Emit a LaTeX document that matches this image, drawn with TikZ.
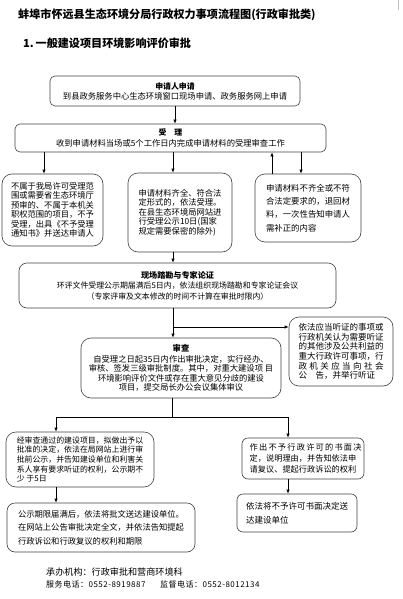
\documentclass[tikz,border=0pt]{standalone}
\usepackage{fontspec}
\setmainfont{Noto Sans CJK SC}
\usetikzlibrary{arrows.meta}

\begin{document}
\begin{tikzpicture}[x=1pt,y=-1pt,
  box/.style={draw=black!75,line width=0.6pt,rounded corners=8pt,inner sep=0pt,align=left,font=\fontsize{8.3}{9.5}\selectfont},
  flow/.style={-{Latex[length=4pt,width=3.2pt]},line width=0.6pt},
  line/.style={line width=0.6pt}]
  \useasboundingbox (0,0) rectangle (403,599);
  \draw[black!25](398,0)--(398,10);
  \node[anchor=west,inner sep=0,font=\fontsize{11.1}{12}\selectfont\bfseries](head) at(18,15){蚌埠市怀远县生态环境分局行政权力事项流程图(行政审批类)};
  \node[anchor=west,inner sep=0,font=\fontsize{11.1}{12}\selectfont\bfseries](sub) at(23,43){1.\,一般建设项目环境影响评价审批};

  \node[box,rounded corners=5pt,align=center,minimum width=250,minimum height=30,font=\fontsize{8.3}{10}\selectfont](apply) at(175,91)
    {{\fontsize{7.9}{10}\selectfont\bfseries 申请人申请}\\到县政务服务中心生态环境窗口现场申请、政务服务网上申请};
  \node[box,rounded corners=5pt,align=center,minimum width=311,minimum height=28,font=\fontsize{8.3}{11}\selectfont](accept) at(170.5,138)
    {{\bfseries\fontsize{7.9}{11}\selectfont 受\hspace{1em}理}\\收到申请材料当场或5个工作日内完成申请材料的受理审查工作};

  \node[box,minimum width=101,minimum height=72,rounded corners=10pt](L1) at(52.5,210)
    {不属于我局许可受理范\\围或需要省生态环境厅\\预审的、不属于本机关\\职权范围的项目，不予\\受理，出具《不予受理\\通知书》并送达申请人};
  \node[box,minimum width=104,minimum height=79,rounded corners=10pt](M1) at(180,212.5)
    {申请材料齐全、符合法\\定形式的，依法受理。\\在县生态环境局网站进\\行受理公示10日(国家\\规定需要保密的除外)};
  \node[box,minimum width=106,minimum height=68,rounded corners=10pt,font=\fontsize{8.4}{13.3}\selectfont](R1) at(308,208)
    {申请材料不齐全或不符\\合法定要求的，退回材\\料，一次性告知申请人\\需补正的内容};

  \node[box,align=center,minimum width=317,minimum height=45,font=\fontsize{7.9}{10.5}\selectfont](site) at(177.5,285.5)
    {{\bfseries\fontsize{8.1}{10.5}\selectfont 现场踏勘与专家论证}\\环评文件受理公示期届满后5日内，依法组织现场踏勘和专家论证会议\\（专家评审及文本修改的时间不计算在审批时限内）};

  \node[box,minimum width=104,minimum height=69,rounded corners=10pt,font=\fontsize{8.5}{9.6}\selectfont](hear) at(341,351.5)
    {依法应当听证的事项或\\行政机关认为需要听证\\的其他涉及公共利益的\\重大行政许可事项，行\\\makebox[10em][s]{政 机 关 应 当 向 社 会}\\公\hspace{1em}告，并举行听证};
  \node[box,align=center,minimum width=200,minimum height=60,rounded corners=10pt,font=\fontsize{8.3}{9.4}\selectfont](review) at(181,368)
    {{\bfseries 审查}\\[1pt]自受理之日起35日内作出审批决定，实行经办、\\审核、签发三级审批制度。其中，对重大建设项\ 目\\环境影响评价文件或存在重大意见分歧的建设\\项目，提交局长办公会议集体审议};

  \node[box,minimum width=148,minimum height=55,rounded corners=10pt,font=\fontsize{7.9}{9.7}\selectfont](L3) at(80,459.5)
    {经审查通过的建设项目，拟做出予以\\批准的决定，依法在局网站上进行审\\批前公示，并告知建设单位和利害关\\系人享有要求听证的权利，公示期不\\少\ 于5日};
  \node[box,minimum width=122,minimum height=41,rounded corners=6pt,font=\fontsize{8.2}{11}\selectfont](R3) at(303,458.5)
    {\makebox[13em][s]{作 出 不 予 行 政 许 可 的 书 面 决}\\定，说明理由，并告知依法申\\请复议、提起行政诉讼的权利};
  \node[box,minimum width=188,minimum height=49,font=\fontsize{8.3}{13.5}\selectfont](L4) at(101,527.5)
    {公示期限届满后，依法将批文送达建设单位。\\在网站上公告审批决定全文，并依法告知提起\\行政诉讼和行政复议的权利和期限};
  \node[box,minimum width=120,minimum height=38,rounded corners=6pt,font=\fontsize{8.5}{14}\selectfont](R4) at(297,513)
    {依法将不予许可书面决定送\\达建设单位};

  \node[anchor=west,inner sep=0,font=\fontsize{9.1}{10}\selectfont](org) at(46,572){承办机构：行政审批和营商环境科};
  \node[anchor=west,inner sep=0,font=\fontsize{8}{9}\selectfont\addfontfeature{LetterSpace=6}](tel1) at(46,584){服务电话：0552-8919887};
  \node[anchor=west,inner sep=0,font=\fontsize{8}{9}\selectfont\addfontfeature{LetterSpace=6}](tel2) at(160,584){监督电话：0552-8012134};

  \coordinate(t1) at(44,0); \coordinate(t2) at(173,0); \coordinate(t3) at(272,0); \coordinate(t4) at(301,0);
  \coordinate(t5) at(56,0); \coordinate(t6) at(288,0);
  \coordinate(fork1) at(173,327); \coordinate(fork2) at(172,417);

  \draw[flow](apply.south)--(apply.south |- accept.north);
  \draw[flow](accept.south -| t1)--(L1.north -| t1);
  \draw[flow](accept.south -| t2)--(M1.north -| t2);
  \draw[flow](R1.north -| t3)--(accept.south -| t3);
  \draw[flow](accept.south -| t4)--(R1.north -| t4);
  \draw[flow](M1.south -| t2)--(site.north -| t2);
  \draw[line](site.south -| fork1)--(fork1);
  \draw[flow](fork1)--(hear.west |- fork1); \draw[flow](fork1)--(review.north -| fork1);
  \draw[line](review.south -| fork2)--(fork2); \draw[line](fork2 -| t5)--(fork2 -| t6);
  \draw[flow](fork2 -| t5)--(L3.north -| t5); \draw[flow](fork2 -| t6)--(R3.north -| t6);
  \draw[flow](L3.south -| t5)--(L4.north -| t5); \draw[flow](R3.south -| t6)--(R4.north -| t6);
\end{tikzpicture}
\end{document}
